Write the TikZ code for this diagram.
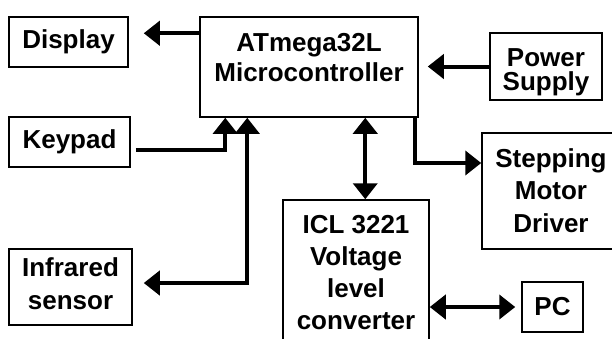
\documentclass[tikz,border=0pt]{standalone}
\usepackage{fontspec}
\setmainfont{Liberation Sans}
\usetikzlibrary{arrows.meta,calc}
\begin{document}
\begin{tikzpicture}[x=1bp,y=-1bp,
  box/.style={draw, line width=1.5bp, inner sep=0pt, rectangle},
  lbl/.style={inner sep=0pt, align=center, font=\bfseries\fontsize{26bp}{#1}\selectfont},
  lbl/.default={31bp},
  conn/.style={line width=4bp, -{Triangle[length=16bp,width=24bp]}},
  dconn/.style={line width=4bp, {Triangle[length=16bp,width=24bp]}-{Triangle[length=16bp,width=24bp]}}]
\useasboundingbox (0,0) rectangle (612,338);
\clip (0,0) rectangle (612,338);
% boxes
\node[box, minimum width=119bp, minimum height=50bp] (disp) at (68.5,42) {};
\node[lbl] (disptext) at (disp.center) {Display};
\node[box, minimum width=218bp, minimum height=100bp] (mc) at (309,67) {};
\node[lbl=30bp, anchor=north] (mctext) at (309,33) {ATmega32L\\Microcontroller};
\node[box, minimum width=112bp, minimum height=67bp] (ps) at (546,66.5) {};
\node[lbl=24.5bp, anchor=north] (pstext) at (546,48) {Power\\Supply};
\node[box, minimum width=121bp, minimum height=50bp] (kp) at (69.5,142) {};
\node[lbl] (kptext) at (kp.center) {Keypad};
\node[box, minimum width=123bp, minimum height=76bp] (ir) at (70.5,287) {};
\node[lbl=33bp, anchor=north] (irtext) at (70.5,257) {Infrared\\sensor};
\node[box, minimum width=146bp, minimum height=145bp] (icl) at (356,272.5) {};
\node[lbl=32bp, anchor=north] (icltext) at (356,215) {ICL 3221\\Voltage\\level\\converter};
\node[box, minimum width=140bp, minimum height=116bp] (sm) at (552,191) {};
\node[lbl=32.5bp, anchor=north] (smtext) at (551,148) {Stepping\\Motor\\Driver};
\node[box, minimum width=61bp, minimum height=50bp] (pc) at (552.5,307) {};
\node[lbl] (pctext) at (pc.center) {PC};
% connectors
\draw[conn, shorten >=15bp] ([yshift=-17bp]mc.north west) -- ([yshift=-17bp]mc.north west -| disp.east);
\draw[conn, shorten >=9bp] (ps.west) -- (ps.west -| mc.east);
\draw[conn, shorten <=5bp] ([yshift=-8bp]kp.east) -| ([xshift=26bp]mc.south west);
\draw[dconn, shorten >=11bp] ([xshift=48bp]mc.south west) |- ([yshift=4bp]ir.east);
\draw[dconn] ([xshift=166bp]mc.south west) -- ([xshift=166bp]mc.south west |- icl.north);
\draw[conn] ([xshift=216bp]mc.south west) |- ([yshift=28bp]sm.west);
\draw[dconn, shorten >=6bp] (pc.west -| icl.east) -- (pc.west);
\end{tikzpicture}
\end{document}
